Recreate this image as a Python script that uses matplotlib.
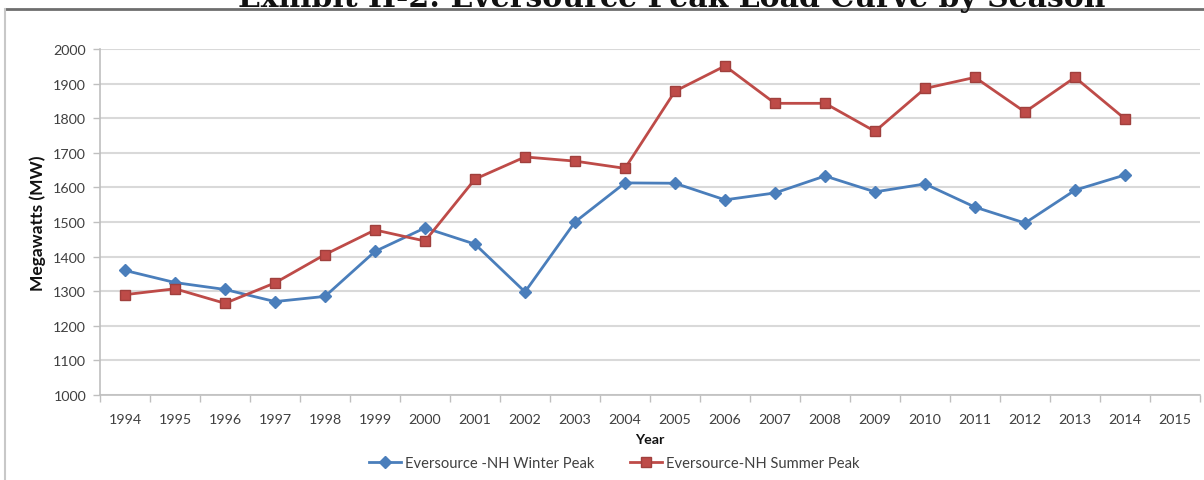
import matplotlib
matplotlib.use("Agg")
import matplotlib.pyplot as plt
from matplotlib.lines import Line2D

years = ["1994", "1995", "1996", "1997", "1998", "1999", "2000", "2001", "2002", "2003", "2004",
         "2005", "2006", "2007", "2008", "2009", "2010", "2011", "2012", "2013", "2014", "2015"]
winter = [1360, 1325, 1305, 1270, 1285, 1415, 1483, 1436, 1298, 1500, 1613,
          1612, 1564, 1584, 1633, 1587, 1610, 1543, 1497, 1592, 1636]
summer = [1290, 1307, 1265, 1324, 1406, 1477, 1445, 1624, 1688, 1676, 1655,
          1878, 1951, 1843, 1843, 1762, 1886, 1918, 1818, 1918, 1798]
yticks = [1000, 1100, 1200, 1300, 1400, 1500, 1600, 1700, 1800, 1900, 2000]
title = "Exhibit II-2: Eversource Peak Load Curve by Season"
winter_label = "Eversource -NH Winter Peak"
summer_label = "Eversource-NH Summer Peak"

W, H = 1204, 481
fig = plt.figure(figsize=(W / 100, H / 100), dpi=100)
fig.patch.set_facecolor("white")
ax = fig.add_axes([100 / W, 1 - 396 / H, 1100 / W, 346 / H])

font = "Lato"
tick_color = "#404040"
blue = "#4A7EBB"
red = "#BE4B48"
fs = 10.3

x = list(range(len(years)))
ax.plot(x[:len(winter)], winter, color=blue, lw=2, marker="D", ms=6,
        mfc=blue, mec=blue, label=winter_label, zorder=3)
ax.plot(x[:len(summer)], summer, color=red, lw=2, marker="s", ms=7.5,
        mfc=red, mec="#A0403D", label=summer_label, zorder=3)

ax.set_xlim(-0.5, len(years) - 0.5)
ax.set_ylim(1000, 2000)
ax.set_yticks(yticks)
ax.set_yticklabels([str(v) for v in yticks], fontfamily=font, fontsize=fs, color=tick_color)
ax.set_xticks(x)
ax.set_xticklabels(years, fontfamily=font, fontsize=fs, color=tick_color)
ax.set_xticks([i - 0.5 for i in range(len(years) + 1)], minor=True)
ax.tick_params(axis="x", which="major", length=0, pad=13)
ax.tick_params(axis="x", which="minor", length=5, color="#bfbfbf", width=1)
ax.tick_params(axis="y", length=5, color="#bfbfbf", width=1, pad=5)

ax.grid(axis="y", color="#d9d9d9", lw=1.5)
ax.set_axisbelow(True)
for s in ["top", "right"]:
    ax.spines[s].set_visible(False)
for s in ["left", "bottom"]:
    ax.spines[s].set_color("#bfbfbf")
    ax.spines[s].set_linewidth(1.2)

ax.set_ylabel("Megawatts (MW)", fontfamily=font, fontweight="bold", fontsize=12.5,
              color="#111111", labelpad=5)
ax.set_xlabel("Year", fontfamily=font, fontweight="bold", fontsize=fs,
              color="#111111", labelpad=6)

leg = fig.legend(loc="center", bbox_to_anchor=(614 / W, 1 - 464 / H), ncol=2,
                 frameon=False, prop={"family": font, "size": 10.6},
                 handlelength=2.2, columnspacing=2.4, handletextpad=0.25)
for t in leg.get_texts():
    t.set_color(tick_color)

# frame lines
fig.add_artist(Line2D([5 / W, 1.0], [1 - 9.5 / H, 1 - 9.5 / H], transform=fig.transFigure,
                      color="#6e6e6e", lw=2))
fig.add_artist(Line2D([5 / W, 5 / W], [0, 1 - 9.5 / H], transform=fig.transFigure,
                      color="#c8c8c8", lw=1.5))

fig.text(672 / W, 1 - 7 / H, title, ha="center", va="baseline",
         fontfamily="DejaVu Serif", fontweight="bold", fontsize=21.5, color="#111111")

fig.savefig("out.png", dpi=100)
